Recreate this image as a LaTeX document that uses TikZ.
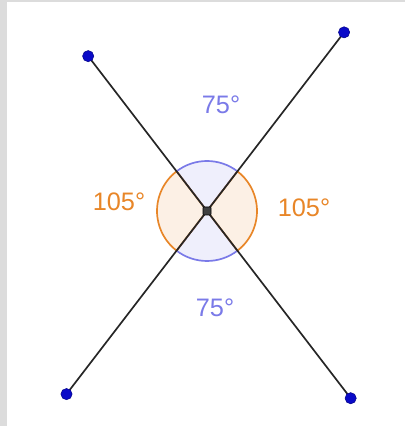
\documentclass[tikz,border=0pt]{standalone}
\usepackage{fontspec}
\setmainfont{Liberation Sans}
\definecolor{framegray}{RGB}{220,220,220}
\definecolor{anglblue}{RGB}{122,122,232}
\definecolor{anglorange}{RGB}{232,134,40}
\definecolor{dotblue}{RGB}{10,10,200}
\tikzset{
  seg/.style={line width=1.2pt, black!85},
  bluesector/.style={fill=anglblue!12, draw=anglblue, line width=1.2pt},
  orangesector/.style={fill=anglorange!12, draw=anglorange, line width=1.2pt},
  endpt/.style={circle, fill=dotblue, draw=dotblue!70!black, inner sep=0pt, minimum size=0.28cm},
  midpt/.style={rectangle, rounded corners=0.5pt, fill=black!75, draw=black, inner sep=0pt, minimum size=0.2cm},
  anglabel/.style={font=\fontsize{18}{21}\selectfont}
}
\begin{document}
\begin{tikzpicture}
  \useasboundingbox (0,0) rectangle (10.125,10.65);
  \fill[framegray] (0,0) rectangle (0.175,10.65);
  \fill[framegray] (0,10.6) rectangle (10.125,10.65);

  \coordinate (O) at (5.175,5.375);
  \coordinate (A) at ([shift={(127.5:4.88)}]O);
  \coordinate (B) at ([shift={(52.5:5.63)}]O);
  \coordinate (C) at ([shift={(232.5:5.77)}]O);
  \coordinate (D) at ([shift={(307.5:5.9)}]O);

  % angles at O
  \begin{scope}[shift={(5.175cm,5.375cm)}]
    \draw[bluesector] (0,0) -- (52.5:1.25cm) arc (52.5:127.5:1.25cm) -- cycle;
    \draw[bluesector] (0,0) -- (232.5:1.25cm) arc (232.5:307.5:1.25cm) -- cycle;
    \draw[orangesector] (0,0) -- (127.5:1.25cm) arc (127.5:232.5:1.25cm) -- cycle;
    \draw[orangesector] (0,0) -- (-52.5:1.25cm) arc (-52.5:52.5:1.25cm) -- cycle;
  \end{scope}

  % segments
  \draw[seg] (A) -- (D)
             (C) -- (B);

  \foreach \p in {A,B,C,D}
    \node[endpt] (dot\p) at (\p) {};
  \node[midpt] (dotO) at (O) {};

  \node[anglabel, text=anglblue] (top) at (5.525,8.025) {75°};
  \node[anglabel, text=anglblue] (bottom) at (5.375,2.95) {75°};
  \node[anglabel, text=anglorange] (left) at (2.975,5.6) {105°};
  \node[anglabel, text=anglorange] (right) at (7.6,5.45) {105°};
\end{tikzpicture}
\end{document}
